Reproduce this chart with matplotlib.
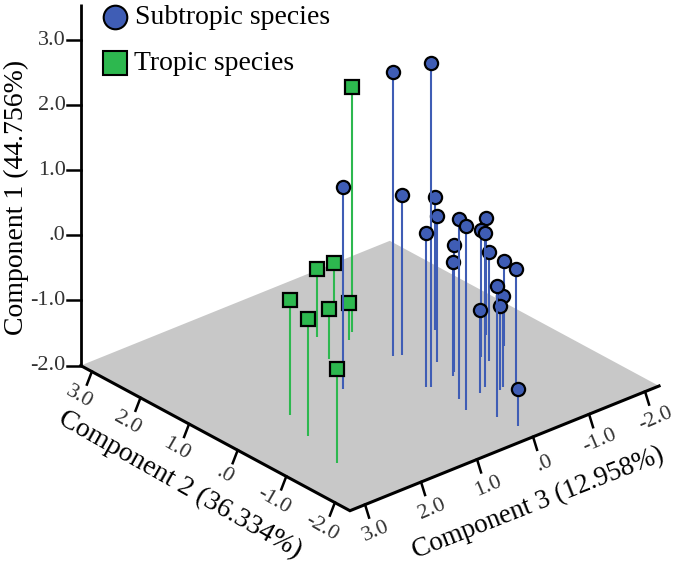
import numpy as np
import matplotlib.pyplot as plt

plt.rcParams['font.family'] = ['Liberation Serif', 'DejaVu Serif']

# component scores
sub_c1 = [2.36, 2.98, 1.10, 0.47, 0.04, 0.24, 0.36, 0.77, 0.82, -0.05, -0.25,
          -0.21, -0.06, 0.37, -0.33, -0.69, -0.22, 0.01, -0.61, -0.71, -0.72, -1.44]
sub_c2 = [0.69, -0.32, 0.41, 0.62, 0.89, 0.18, -0.27, -0.84, -1.13, -0.20, -0.28,
          0.33, -0.10, -0.80, -0.26, -0.07, -1.03, -1.55, -0.95, -1.00, -0.89, -1.93]
sub_c3 = [-0.10, 0.09, 1.04, -0.21, -1.02, -0.44, 0.15, 0.05, 0.18, -0.42, -0.34,
          -1.45, -0.99, -0.46, -0.99, -1.43, -0.81, -0.01, -0.64, -0.55, -0.29, -0.06]

tro_c1 = [1.76, -0.23, -0.20, -0.96, -1.35, -1.22, -1.43, -0.56]
tro_c2 = [1.58, 0.30, -0.30, 1.78, 2.32, 1.18, 1.42, -1.16]
tro_c3 = [-0.14, 2.07, 2.28, 0.31, -0.46, 0.62, 0.05, 2.50]

tick_vals = [3, 2, 1, 0, -1, -2]
tick_labels = ['3.0', '2.0', '1.0', '.0', '-1.0', '-2.0']
c1_lim = [-2, 3.55]
c2_lim = [-2.31, 3.23]
c3_lim = [-2.25, 3.27]

blue = '#3F5DB5'
green = '#2DB84F'
grey = '#C8C8C8'
tick_col = '#333333'


# oblique projection, result is in image pixels
def project(c1, c2, c3):
    x = 420.8 - 48.6*np.asarray(c2) - 56.0*np.asarray(c3)
    y = 376.3 - 26.2*np.asarray(c2) + 22.6*np.asarray(c3) - 65.1*(np.asarray(c1) + 2)
    return x, y


fig = plt.figure(figsize=(6.75, 5.65), dpi=100)
ax = fig.add_axes([0, 0, 1, 1])
ax.set_xlim(0, 675)
ax.set_ylim(565, 0)
ax.axis('off')

# floor
c2_box = [c2_lim[1], c2_lim[0], c2_lim[0], c2_lim[1]]
c3_box = [c3_lim[1], c3_lim[1], c3_lim[0], c3_lim[0]]
fx, fy = project([-2]*4, c2_box, c3_box)
ax.fill(fx, fy, color=grey, lw=0, zorder=1)

# axis lines
x0, y0 = project([c1_lim[0], c1_lim[1]], [c2_lim[1]]*2, [c3_lim[1]]*2)
ax.plot([x0[0], x0[0]], [y0[0], 4], color='black', lw=2, zorder=2, solid_capstyle='butt')
ax.plot(fx[:3], fy[:3], color='black', lw=2.2, zorder=2, solid_joinstyle='miter')

for val, lab in zip(tick_vals, tick_labels):
    # component 1
    tx, ty = project(val, c2_lim[1], c3_lim[1])
    ax.plot([tx - 14, tx], [ty, ty], color='black', lw=1.8, zorder=2)
    ax.text(tx - 15, ty, lab, ha='right', va='center', fontsize=16, color=tick_col)
    # component 2
    tx, ty = project(-2, val, c3_lim[1])
    ax.plot([tx, tx - 5], [ty, ty + 13], color='black', lw=1.8, zorder=2)
    ax.text(tx - 13, ty + 25, lab, ha='center', va='center', fontsize=16,
            color=tick_col, rotation=-30, rotation_mode='anchor')
    # component 3
    tx, ty = project(-2, c2_lim[0], val)
    ax.plot([tx, tx + 4], [ty, ty + 13], color='black', lw=1.8, zorder=2)
    ax.text(tx + 11, ty + 27, lab, ha='center', va='center', fontsize=16,
            color=tick_col, rotation=23, rotation_mode='anchor')

ax.text(16, 197, 'Component 1 (44.756%)', rotation=90, ha='center', va='center', fontsize=20)
ax.text(180, 485, 'Component 2 (36.334%)', rotation=-29.5, ha='center', va='center',
        fontsize=20, rotation_mode='anchor')
ax.text(538, 503, 'Component 3 (12.958%)', rotation=21.5, ha='center', va='center',
        fontsize=19.5, rotation_mode='anchor')

# stems and markers, back to front
points = []
for c1, c2, c3 in zip(sub_c1, sub_c2, sub_c3):
    points.append((c1, c2, c3, 'o', blue))
for c1, c2, c3 in zip(tro_c1, tro_c2, tro_c3):
    points.append((c1, c2, c3, 's', green))
points.sort(key=lambda p: project(-2, p[1], p[2])[1])

z = 3
for c1, c2, c3, mark, col in points:
    bx, by = project(-2, c2, c3)
    px, py = project(c1, c2, c3)
    ax.plot([bx, px], [by, py], color=col, lw=1.5, zorder=z, solid_capstyle='butt')
    ax.plot(px, py, mark, color=col, mec='black', mew=1.6, ms=9.5, zorder=z + 1)
    z += 2

# legend
ax.plot(115, 17, 'o', color=blue, mec='black', mew=1.5, ms=17, zorder=z)
ax.plot(115, 63, 's', color=green, mec='black', mew=1.5, ms=17, zorder=z)
ax.text(135, 17, 'Subtropic species', ha='left', va='center', fontsize=20)
ax.text(134, 63, 'Tropic species', ha='left', va='center', fontsize=20)

plt.savefig('out.png', dpi=100)
